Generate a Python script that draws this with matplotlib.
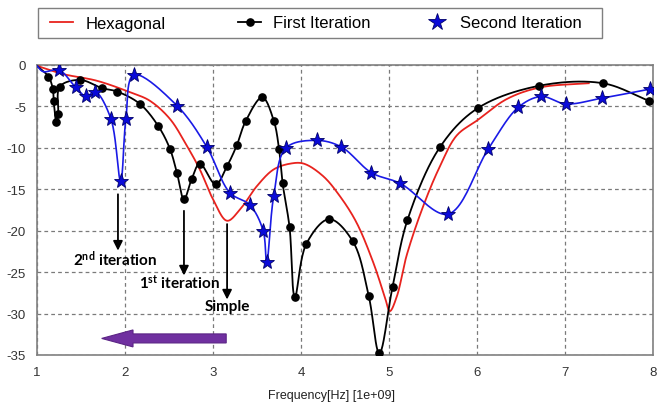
import numpy as np
import matplotlib
matplotlib.use("Agg")
import matplotlib.pyplot as plt
from matplotlib.patches import FancyArrow, Rectangle

# ---------------- data ----------------
hex_x = [1.0, 1.3, 1.68, 2.06, 2.28, 2.51, 2.70, 2.85, 3.0, 3.16, 3.31, 3.50, 3.69,
         3.88, 4.03, 4.25, 4.44, 4.63, 4.82, 4.95, 5.01, 5.09, 5.20, 5.39, 5.58,
         5.77, 6.0, 6.34, 6.72, 7.27]
hex_y = [-0.1, -1.1, -1.9, -3.3, -4.3, -6.5, -9.7, -12.6, -16.2, -18.8, -17.4, -14.6,
         -12.6, -11.9, -11.9, -13.4, -15.8, -19.0, -23.8, -27.9, -29.7, -27.9, -23.0,
         -17.0, -12.2, -8.5, -6.7, -4.1, -2.7, -2.2]

first_x = [1.0, 1.13, 1.18, 1.19, 1.22, 1.24, 1.26, 1.49, 1.74, 1.91, 2.17, 2.38, 2.51,
           2.59, 2.67, 2.76, 2.85, 3.03, 3.16, 3.27, 3.37, 3.56, 3.69, 3.75, 3.79,
           3.87, 3.93, 4.06, 4.32, 4.59, 4.77, 4.89, 5.04, 5.21, 5.58, 6.01, 6.71,
           7.43, 7.95]
first_y = [-0.1, -1.4, -2.9, -4.4, -6.9, -5.9, -2.6, -1.8, -2.8, -3.2, -4.7, -7.4, -10.1,
           -13.0, -16.2, -13.7, -11.9, -14.4, -12.2, -9.7, -6.8, -3.9, -6.7, -10.1,
           -14.2, -19.6, -28.0, -21.6, -18.6, -21.3, -27.9, -34.8, -26.8, -18.7, -9.9,
           -5.2, -2.5, -2.2, -4.3]

second_x = [1.0, 1.07, 1.25, 1.44, 1.56, 1.66, 1.84, 1.95, 2.01, 2.10, 2.59, 2.93, 3.19,
            3.42, 3.57, 3.61, 3.69, 3.83, 4.18, 4.46, 4.80, 5.13, 5.67, 6.13, 6.47,
            6.73, 7.01, 7.42, 7.97]
second_y = [-0.1, -0.8, -0.6, -2.7, -3.8, -3.2, -6.5, -14.0, -6.5, -1.2, -4.9, -9.9,
            -15.4, -16.9, -20.0, -23.8, -15.8, -10.0, -9.1, -9.9, -13.0, -14.3, -18.0,
            -10.1, -5.1, -3.8, -4.7, -4.0, -2.9]

labels = ["Hexagonal", "First Iteration", "Second Iteration"]
xticks = [1, 2, 3, 4, 5, 6, 7, 8]
yticks = [0, -5, -10, -15, -20, -25, -30, -35]


def smooth(xs, ys, n=24):
    """Centripetal Catmull-Rom curve through the given points (for drawing only)."""
    P = np.column_stack([np.asarray(xs, float) * 88.0, np.asarray(ys, float) * 8.28])
    P = np.vstack([2 * P[0] - P[1], P, 2 * P[-1] - P[-2]])
    out = []
    for i in range(1, len(P) - 2):
        p0, p1, p2, p3 = P[i - 1], P[i], P[i + 1], P[i + 2]
        t0 = 0.0
        t1 = t0 + np.linalg.norm(p1 - p0) ** 0.5 + 1e-9
        t2 = t1 + np.linalg.norm(p2 - p1) ** 0.5 + 1e-9
        t3 = t2 + np.linalg.norm(p3 - p2) ** 0.5 + 1e-9
        t = np.linspace(t1, t2, n)[:, None]
        A1 = (t1 - t) / (t1 - t0) * p0 + (t - t0) / (t1 - t0) * p1
        A2 = (t2 - t) / (t2 - t1) * p1 + (t - t1) / (t2 - t1) * p2
        A3 = (t3 - t) / (t3 - t2) * p2 + (t - t2) / (t3 - t2) * p3
        B1 = (t2 - t) / (t2 - t0) * A1 + (t - t0) / (t2 - t0) * A2
        B2 = (t3 - t) / (t3 - t1) * A2 + (t - t1) / (t3 - t1) * A3
        C = (t2 - t) / (t2 - t1) * B1 + (t - t1) / (t2 - t1) * B2
        out.append(C if i == len(P) - 3 else C[:-1])
    C = np.vstack(out)
    return C[:, 0] / 88.0, C[:, 1] / 8.28


plt.rcParams['font.family'] = ['Liberation Sans', 'DejaVu Sans']
plt.rcParams['mathtext.fontset'] = 'custom'
plt.rcParams['mathtext.rm'] = 'Lato:bold'
plt.rcParams['mathtext.it'] = 'Lato:bold'
plt.rcParams['mathtext.bf'] = 'Lato:bold'

fig = plt.figure(figsize=(6.57, 4.10), dpi=100)
ax = fig.add_axes([37 / 657, 1 - 356 / 410, 616 / 657, 290 / 410])

red = '#E8231E'
blue = '#1A1AE6'

hx, hy = smooth(hex_x, hex_y)
ax.plot(hx, hy, color=red, lw=1.3, zorder=3)

fx, fy = smooth(first_x, first_y)
ax.plot(fx, fy, color='black', lw=1.3, zorder=4)
ax.plot(first_x[1:], first_y[1:], ls='none', marker='o', ms=5.2,
        color='black', zorder=5)

sx, sy = smooth(second_x, second_y)
ax.plot(sx, sy, color=blue, lw=1.2, zorder=6)
ax.plot(second_x[2:], second_y[2:], ls='none', marker='*', ms=11,
        markerfacecolor='#0A0AD8', markeredgecolor='#00006A', markeredgewidth=0.6,
        zorder=7)

# legend frame + entries (one entry per legend so each can sit where the reference has it)
fig.patches.append(Rectangle((38 / 657, 1 - 39 / 410), 564 / 657, 30 / 410,
                             transform=fig.transFigure, facecolor='white',
                             edgecolor='#7F7F7F', lw=1.0, zorder=0))
h1 = plt.Line2D([], [], color=red, lw=1.3)
h2 = plt.Line2D([], [], color='black', lw=1.3, marker='o', ms=5.2)
h3 = plt.Line2D([], [], color='none', marker='*', ms=13,
                markerfacecolor='#0A0AD8', markeredgecolor='#00006A', markeredgewidth=0.6)
for h, lab, xpx in zip([h1, h2, h3], labels, [50, 238, 425]):
    lg = fig.legend([h], [lab], loc='center left',
                    bbox_to_anchor=(xpx / 657, 1 - 24 / 410),
                    frameon=False, fontsize=12, handlelength=1.4,
                    handletextpad=0.72, borderaxespad=0, borderpad=0)

ax.set_xlim(1, 8)
ax.set_ylim(-35, 0)
ax.set_xticks(xticks)
ax.set_yticks(yticks)
ax.set_xticklabels([str(v) for v in xticks])
ax.set_yticklabels([str(v) for v in yticks])
ax.tick_params(length=0, labelsize=9.5, labelcolor='#333333')
ax.tick_params(axis='y', pad=8)
ax.tick_params(axis='x', pad=8)
ax.grid(True, color='#7A7A7A', ls=(0, (3, 2.5)), lw=0.9)
ax.set_axisbelow(True)
for s in ax.spines.values():
    s.set_color('#808080')
    s.set_linewidth(1.2)

fig.text(331 / 657, 1 - 396 / 410, "Frequency[Hz] [1e+09]", ha='center', va='center',
         fontsize=9, color='#222222')

# annotation arrows
arrow_kw = dict(arrowstyle='-|>', color='black', lw=1.3, mutation_scale=14,
                shrinkA=0, shrinkB=0)
for x0, y0, y1 in [(1.92, -15.6, -22.4), (2.67, -17.6, -25.4), (3.16, -19.2, -28.3)]:
    ax.annotate('', xy=(x0, y1), xytext=(x0, y0), arrowprops=arrow_kw, zorder=8)

tkw = dict(ha='center', va='center', fontsize=11, family='Lato', weight='bold',
           color='black', zorder=9)
ax.text(1.89, -23.3, r"2$^{\mathrm{nd}}$ iteration", **tkw)
ax.text(2.62, -26.2, r"1$^{\mathrm{st}}$ iteration", **tkw)
ax.text(3.16, -29.1, "Simple", **tkw)

ax.add_patch(FancyArrow(3.15, -33.0, -1.415, 0, width=1.09, head_width=2.05,
                        head_length=0.356, length_includes_head=True,
                        facecolor='#7030A0', edgecolor='#5B2485', lw=0.8, zorder=9))

fig.savefig('out.png', dpi=100)
